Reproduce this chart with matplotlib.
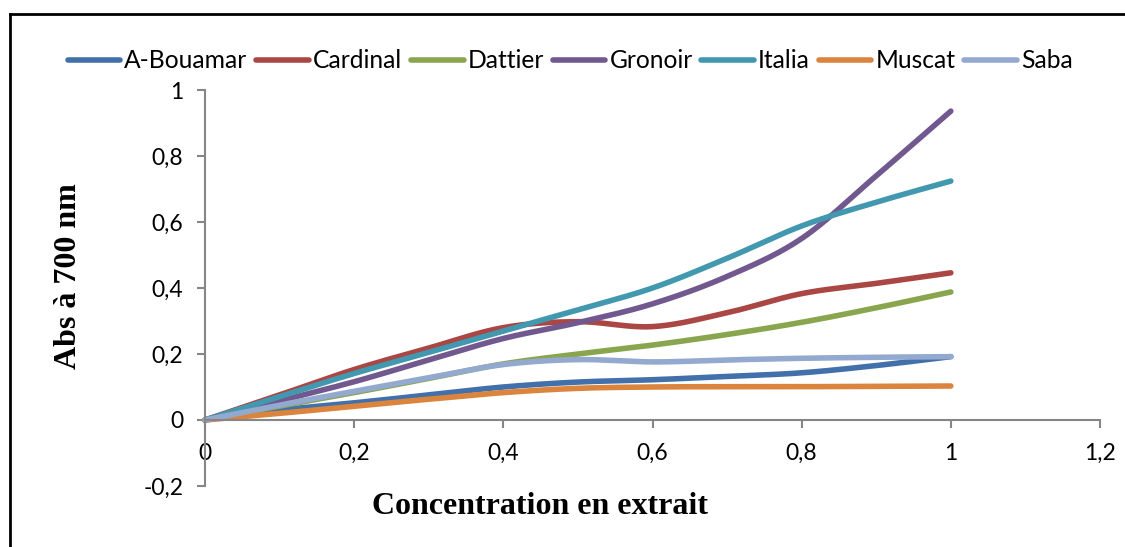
import numpy as np
import matplotlib
matplotlib.use("Agg")
import matplotlib.pyplot as plt
from matplotlib.lines import Line2D

# ---- data ----
concentration = [0.0, 0.1, 0.2, 0.3, 0.4, 0.5, 0.6, 0.7, 0.8, 0.9, 1.0]
a_bouamar = [0.0, 0.030, 0.052, 0.076, 0.100, 0.115, 0.122, 0.132, 0.143, 0.165, 0.192]
cardinal  = [0.0, 0.076, 0.153, 0.218, 0.280, 0.298, 0.283, 0.325, 0.383, 0.414, 0.446]
dattier   = [0.0, 0.042, 0.083, 0.126, 0.170, 0.200, 0.227, 0.259, 0.296, 0.340, 0.388]
gronoir   = [0.0, 0.058, 0.116, 0.182, 0.247, 0.295, 0.352, 0.435, 0.550, 0.740, 0.936]
italia    = [0.0, 0.071, 0.141, 0.205, 0.270, 0.334, 0.400, 0.490, 0.588, 0.660, 0.724]
muscat    = [0.0, 0.020, 0.042, 0.063, 0.083, 0.096, 0.100, 0.101, 0.101, 0.102, 0.103]
saba      = [0.0, 0.045, 0.087, 0.128, 0.168, 0.183, 0.176, 0.182, 0.187, 0.190, 0.192]

series_names = ["A-Bouamar", "Cardinal", "Dattier", "Gronoir", "Italia", "Muscat", "Saba"]
series_values = [a_bouamar, cardinal, dattier, gronoir, italia, muscat, saba]
colors = ["#4170AB", "#AA4643", "#89A54E", "#71588F", "#4198AF", "#DB843D", "#93A9CF"]

x_ticks = [0, 0.2, 0.4, 0.6, 0.8, 1.0, 1.2]
x_ticklabels = ["0", "0,2", "0,4", "0,6", "0,8", "1", "1,2"]
y_ticks = [-0.2, 0, 0.2, 0.4, 0.6, 0.8, 1.0]
y_ticklabels = ["-0,2", "0", "0,2", "0,4", "0,6", "0,8", "1"]


def smooth(xs, ys, n=30):
    """Excel-like smoothed line: cubic Bezier with Catmull-Rom control points."""
    xs = np.asarray(xs, float)
    ys = np.asarray(ys, float)
    P = np.column_stack([xs, ys])
    out = [P[0]]
    t = np.linspace(0, 1, n)[1:]
    for i in range(len(P) - 1):
        p0 = P[i - 1] if i > 0 else P[i]
        p1 = P[i]
        p2 = P[i + 1]
        p3 = P[i + 2] if i + 2 < len(P) else P[i + 1]
        c1 = p1 + (p2 - p0) / 6.0
        c2 = p2 - (p3 - p1) / 6.0
        for tt in t:
            b = ((1 - tt) ** 3) * p1 + 3 * ((1 - tt) ** 2) * tt * c1 + 3 * (1 - tt) * tt ** 2 * c2 + tt ** 3 * p2
            out.append(b)
    out = np.array(out)
    return out[:, 0], out[:, 1]


plt.rcParams['font.family'] = ['Lato', 'DejaVu Sans']

W, H = 1125, 547
fig = plt.figure(figsize=(W / 100, H / 100), dpi=100)

# axes placement in pixels: x 0..1.2 -> 205..1100 ; y -0.2..1 -> 486..90
left, right, top, bottom = 205, 1100, 90, 486
ax = fig.add_axes([left / W, (H - bottom) / H, (right - left) / W, (bottom - top) / H])
ax.set_xlim(0, 1.2)
ax.set_ylim(-0.2, 1.0)

axis_gray = "#868686"
for s in ["top", "right"]:
    ax.spines[s].set_visible(False)
ax.spines["bottom"].set_position(("data", 0))
ax.spines["bottom"].set_color(axis_gray)
ax.spines["left"].set_color(axis_gray)
ax.spines["bottom"].set_linewidth(1.5)
ax.spines["left"].set_linewidth(1.5)

ax.set_xticks(x_ticks)
ax.set_xticklabels(x_ticklabels)
ax.set_yticks(y_ticks)
ax.set_yticklabels(y_ticklabels)
ax.tick_params(axis="x", direction="out", length=5.5, width=1.5, color=axis_gray,
               labelsize=16.5, pad=11)
ax.tick_params(axis="y", direction="out", length=5.5, width=1.5, color=axis_gray,
               labelsize=16.5, pad=10)

handles = []
for name, vals, col in zip(series_names, series_values, colors):
    sx, sy = smooth(concentration, vals)
    ln, = ax.plot(sx, sy, color=col, lw=4, solid_capstyle="round",
                  solid_joinstyle="round", label=name, clip_on=False)
    handles.append(ln)

leg = fig.legend(handles=handles, loc="center", bbox_to_anchor=(570 / W, 1 - 61 / H),
                 ncol=7, frameon=False, fontsize=17.7, handlelength=2.15,
                 handletextpad=0.16, columnspacing=0.35, borderpad=0)

fig.text(540 / W, 1 - 507 / H, "Concentration en extrait", ha="center", va="center",
         fontsize=23, fontweight="bold", family=["Liberation Serif", "DejaVu Serif"])
fig.text(68 / W, 1 - 276 / H, "Abs à 700 nm", ha="center", va="center", rotation=90,
         fontsize=23, fontweight="bold", family=["Liberation Serif", "DejaVu Serif"])

# outer chart border (top and left visible)
fig.add_artist(Line2D([10 / W, 10 / W], [0, 1 - 14 / H], transform=fig.transFigure,
                      color="black", lw=2))
fig.add_artist(Line2D([10 / W, 1], [1 - 14 / H, 1 - 14 / H], transform=fig.transFigure,
                      color="black", lw=2))

fig.savefig("out.png", dpi=100)
